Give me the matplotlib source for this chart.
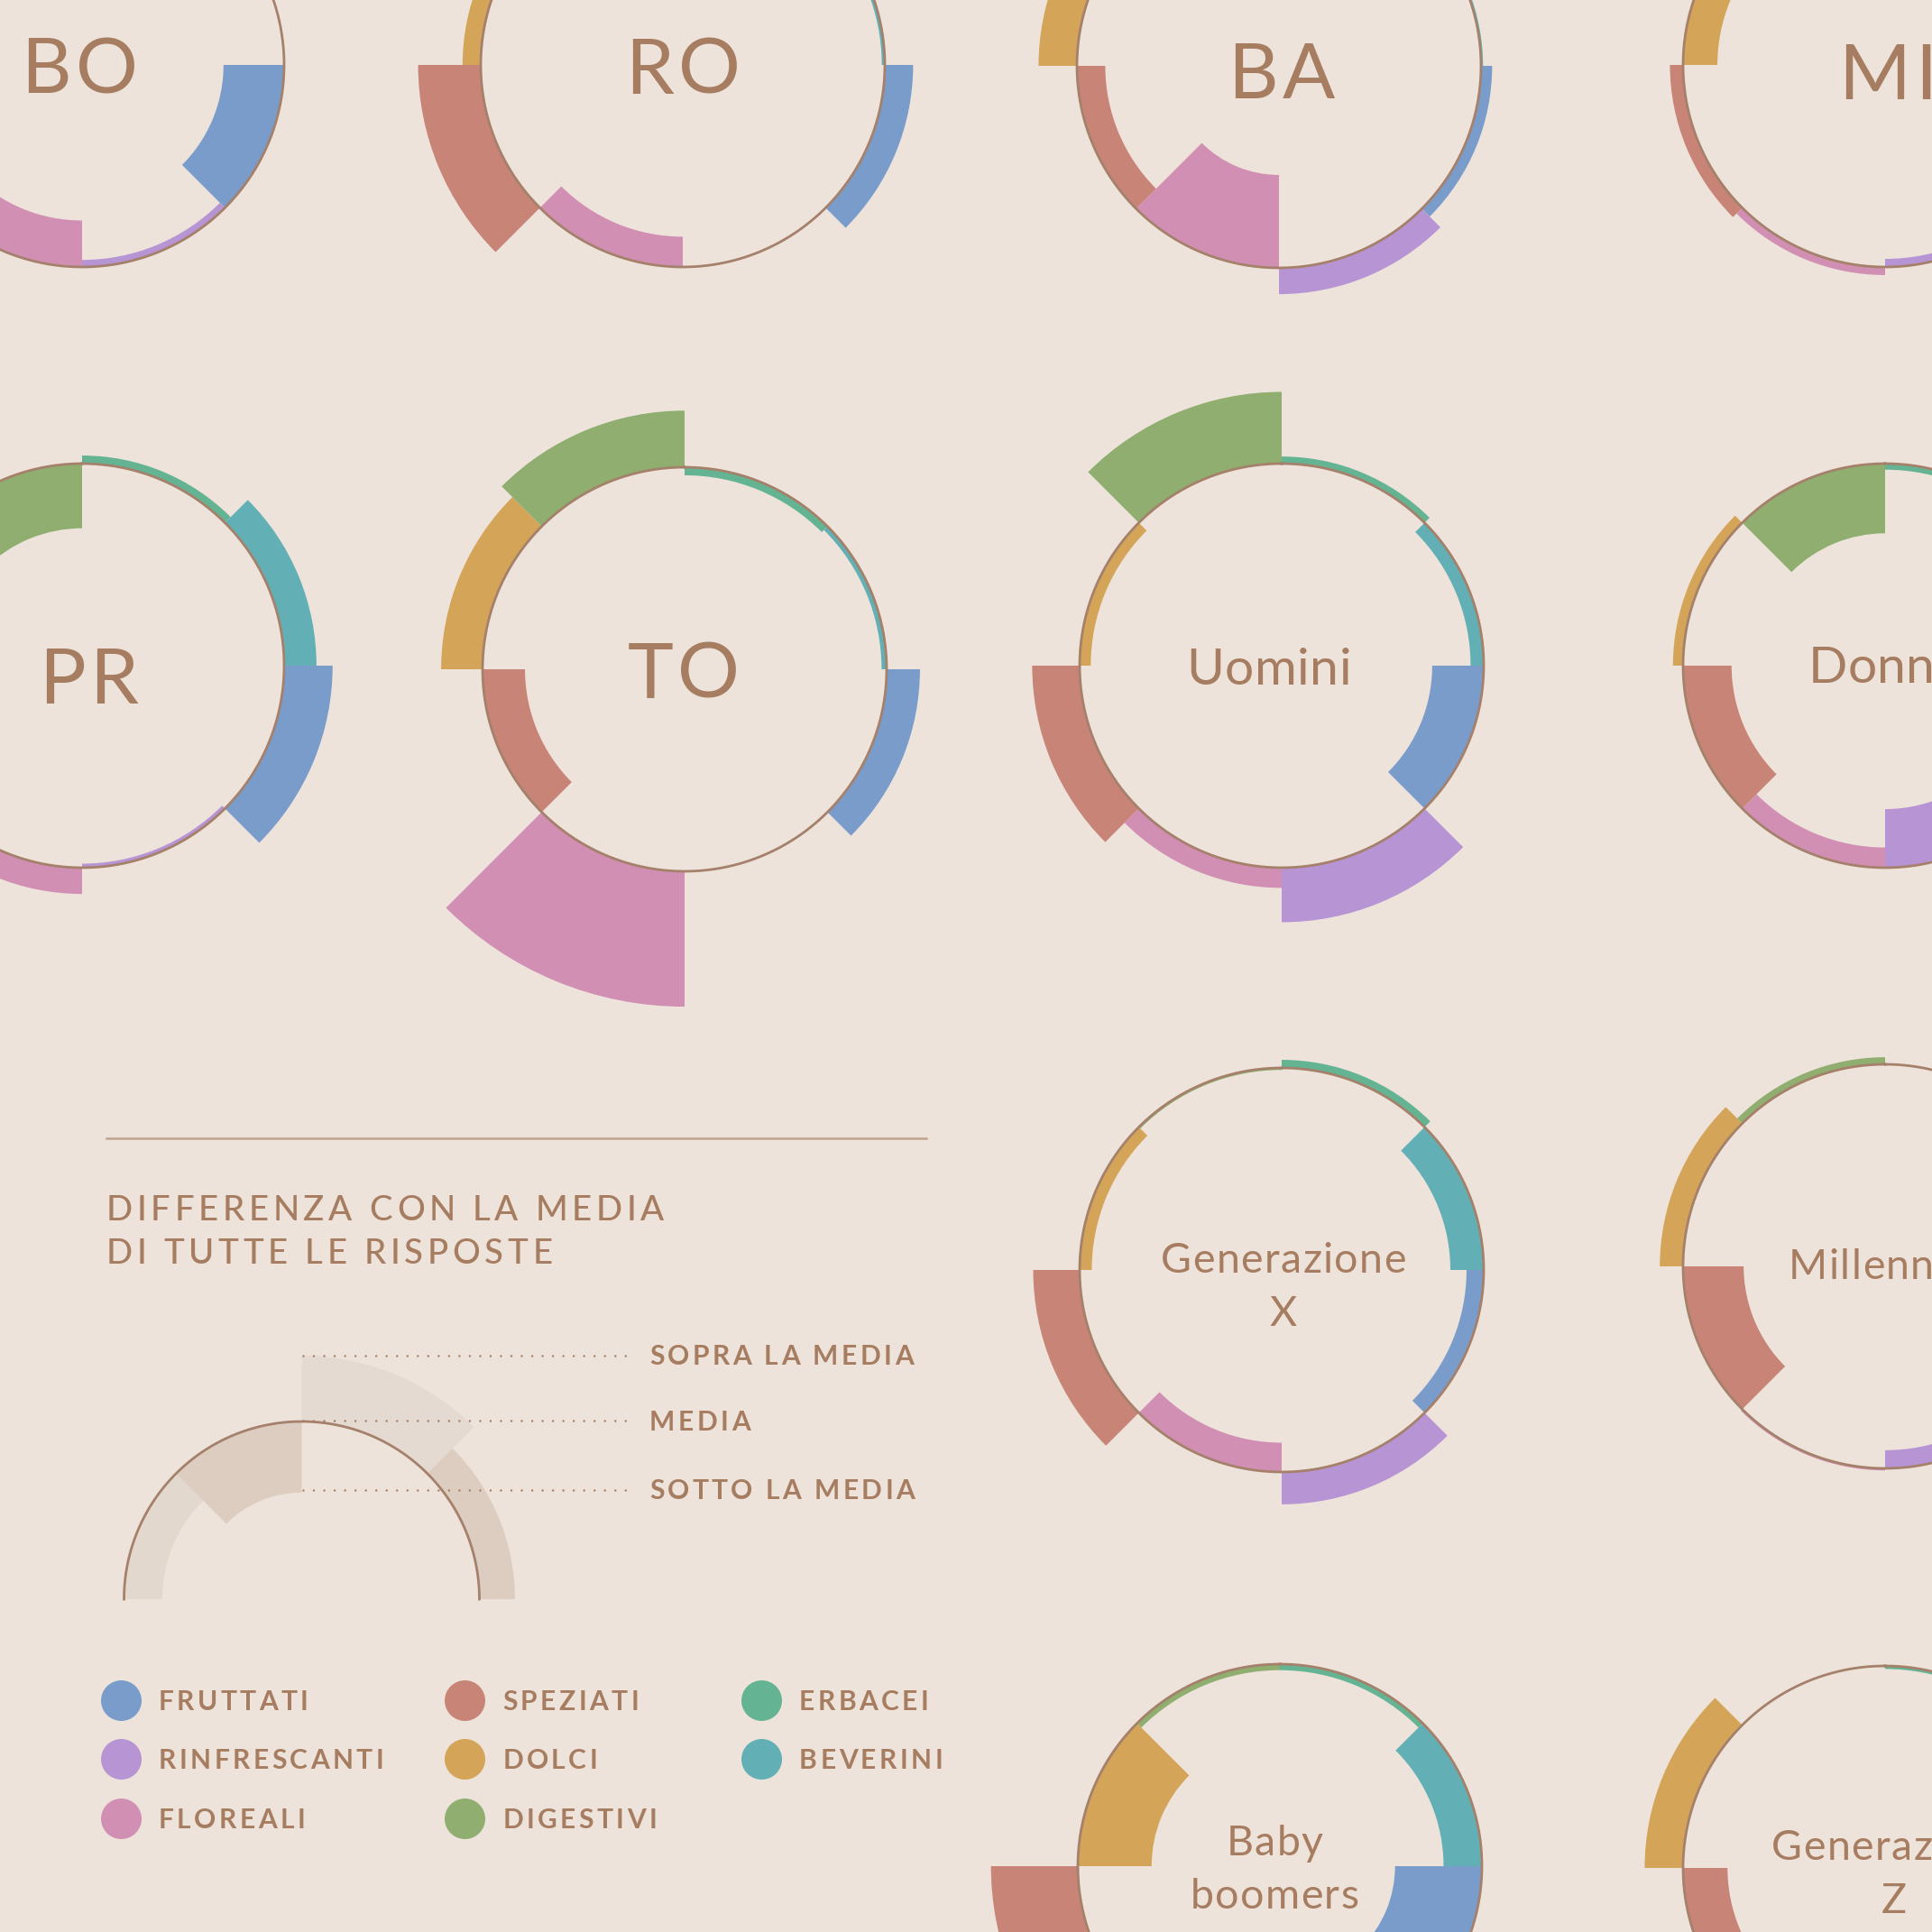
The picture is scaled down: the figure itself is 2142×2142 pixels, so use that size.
import numpy as np
import matplotlib
matplotlib.use('Agg')
import matplotlib.pyplot as plt
from matplotlib.font_manager import FontProperties, findfont, get_font

W = H = 2142
DPI = 100
BG = '#ede3da'
TXT = '#a77d61'
LINE = '#a5806a'
FONT = ['Lato', 'DejaVu Sans']

# categorie, in senso orario partendo da mezzogiorno
categorie = ['ERBACEI', 'BEVERINI', 'FRUTTATI', 'RINFRESCANTI', 'FLOREALI', 'SPEZIATI', 'DOLCI', 'DIGESTIVI']
colori = ['#64b494', '#62b0b5', '#7a9ccb', '#b795d4', '#d28fb4', '#c88477', '#d4a458', '#8fae6f']

grafici = ['BO', 'RO', 'BA', 'MI', 'PR', 'TO', 'Uomini', 'Donne',
           'Generazione\nX', 'Millennials', 'Baby\nboomers', 'Generazione\nZ']

# raggio rispetto alla media (1 = media)
erbacei      = [1.00, 1.00, 1.00, 1.00, 1.04, 0.96, 1.035, 0.97, 1.04, 1.00, 0.97, 0.985]
beverini     = [1.00, 0.985, 1.01, 1.00, 1.16, 0.975, 0.935, 1.00, 0.835, 1.00, 0.81, 1.00]
fruttati     = [0.70, 1.14, 1.055, 1.00, 1.24, 1.165, 0.745, 1.00, 0.915, 1.00, 0.57, 1.00]
rinfrescanti = [0.965, 1.00, 1.13, 0.96, 0.98, 1.00, 1.27, 0.71, 1.16, 0.91, 1.00, 1.00]
floreali     = [0.77, 0.85, 0.54, 1.04, 1.13, 1.67, 1.10, 0.90, 0.855, 1.01, 1.00, 1.00]
speziati     = [1.00, 1.31, 0.86, 1.065, 1.00, 0.79, 1.235, 0.76, 1.23, 0.70, 1.43, 0.78]
dolci        = [1.00, 1.09, 1.19, 0.83, 1.00, 1.205, 0.945, 1.05, 0.94, 1.115, 0.635, 1.19]
digestivi    = [1.00, 1.00, 1.00, 1.00, 0.68, 1.28, 1.355, 0.655, 0.99, 1.035, 0.97, 1.00]
serie = [erbacei, beverini, fruttati, rinfrescanti, floreali, speziati, dolci, digestivi]

# legenda di esempio (settori da 270 a 90 gradi)
esempio = [0.785, 0.60, 1.37, 1.20]
esempio_colori = ['#e3d8ce', '#dccdc0', '#e4dad1', '#dccdc0']
esempio_etichette = ['SOPRA LA MEDIA', 'MEDIA', 'SOTTO LA MEDIA']

# layout (pixel, y dall'alto)
cx = [91, 757, 1418, 2090, 91, 759, 1421, 2090, 1421, 2090, 1419, 2090]
cy = [72, 72, 73, 72, 738, 742, 738, 738, 1408, 1404, 2069, 2071]
lab_x = [88, 757, 1421, 2093, 98, 758, 1407, 2090, 1423, 2099, 1413, 2100]
lab_y = [103, 104, 109, 110, 780, 774, 759, 757, 1411, 1418, 2057, 2062]
R = 224

fig = plt.figure(figsize=(W / DPI, H / DPI), dpi=DPI, facecolor=BG)


def polare(x, y, r_px, rmax=2.0):
    half = r_px * rmax
    pa = fig.add_axes([(x - half) / W, (H - y - half) / H, 2 * half / W, 2 * half / H],
                      projection='polar')
    pa.set_theta_zero_location('N')
    pa.set_theta_direction(-1)
    pa.set_facecolor('none')
    pa.axis('off')
    return pa


theta = np.arange(8) * np.pi / 4
for i in range(len(grafici)):
    v = np.array([s[i] for s in serie])
    pa = polare(cx[i], cy[i], R)
    pa.bar(theta, np.abs(v - 1), width=np.pi / 4, bottom=np.minimum(v, 1), align='edge',
           color=colori, linewidth=0, zorder=1)
    t = np.linspace(0, 2 * np.pi, 400)
    pa.plot(t, np.ones_like(t), color=LINE, lw=2.0, zorder=3)
    pa.set_ylim(0, 2)

# grafico di esempio
v = np.array(esempio)
pa = polare(334.5, 1773, 197)
pa.bar(np.array([-2, -1, 0, 1]) * np.pi / 4, np.abs(v - 1), width=np.pi / 4,
       bottom=np.minimum(v, 1), align='edge', color=esempio_colori, linewidth=0)
t = np.linspace(-np.pi / 2, np.pi / 2, 200)
pa.plot(t, np.ones_like(t), color=LINE, lw=2.0, zorder=3)
pa.set_ylim(0, 2)

ax = fig.add_axes([0, 0, 1, 1])
ax.set_xlim(0, W)
ax.set_ylim(H, 0)
ax.set_facecolor('none')
ax.axis('off')


def testo_spaziato(x, y, s, size, track, weight='normal', ha='left'):
    prop = FontProperties(family=FONT, size=size, weight=weight)
    font = get_font(findfont(prop))
    font.set_size(size, DPI)
    adv = [font.load_char(ord(c)).linearHoriAdvance / 65536 for c in s]
    total = sum(adv) + track * (len(s) - 1)
    x0 = x - total / 2 if ha == 'center' else x
    for c, a in zip(s, adv):
        if c != ' ':
            ax.text(x0, y, c, fontproperties=prop, color=TXT, ha='left', va='baseline')
        x0 += a + track


# nomi dei grafici
for i, nome in enumerate(grafici):
    if i < 6:
        testo_spaziato(lab_x[i], lab_y[i], nome, 62, 5, ha='center')
    elif nome in ('Uomini', 'Donne'):
        testo_spaziato(lab_x[i], lab_y[i], nome, 41, 0.5, ha='center')
    else:
        for k, riga in enumerate(nome.split('\n')):
            testo_spaziato(lab_x[i], lab_y[i] + 59 * k, riga, 33.5, 1.4, ha='center')

# legenda
ax.plot([117.5, 1027], [1262, 1262], color='#c2a38d', lw=1.8)
testo_spaziato(117.5, 1353, 'DIFFERENZA CON LA MEDIA', 27.6, 4.7, weight='medium')
testo_spaziato(117.5, 1401, 'DI TUTTE LE RISPOSTE', 27.6, 4.7, weight='medium')

for yl, et in zip([1502.7, 1575, 1651.7], esempio_etichette):
    ax.plot([336, 697], [yl, yl], color=TXT, lw=1.8, ls=(0, (0.01, 4.6)),
            dash_capstyle='round')
    testo_spaziato(720, yl + 10.5, et, 21.6, 3.4, weight='bold')

ordine = [2, 3, 4, 5, 6, 7, 0, 1]
col_x = [133.7, 515.2, 844]
row_y = [1885, 1950, 2016]
for k, j in enumerate(ordine):
    x, y = col_x[k // 3], row_y[k % 3]
    ax.plot(x, y, 'o', ms=32.4, color=colori[j], mew=0)
    testo_spaziato(x + 42, y + 11, categorie[j], 21.6, 3.4, weight='bold')

fig.savefig('out.png', dpi=DPI, facecolor=BG)
